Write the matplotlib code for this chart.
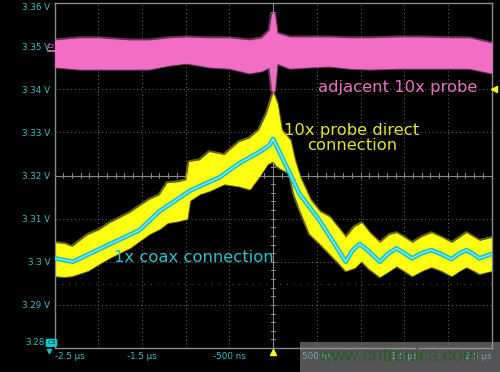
import numpy as np
import matplotlib
matplotlib.use("Agg")
import matplotlib.pyplot as plt
from matplotlib.patches import Rectangle

# time in microseconds, voltage in volts
t_coax = [-2.50, -2.29, -1.99, -1.53, -1.30, -0.94, -0.61, -0.39, -0.16, -0.04, 0.0,
          0.10, 0.21, 0.30, 0.53, 0.76, 0.83, 0.91, 0.99, 1.08, 1.22, 1.31, 1.41, 1.50,
          1.59, 1.70, 1.81, 1.92, 2.04, 2.12, 2.21, 2.29, 2.36, 2.43, 2.50]
v_coax = [3.3008, 3.3000, 3.3029, 3.3073, 3.3117, 3.3166, 3.3196, 3.3228, 3.3254, 3.3270, 3.3285,
          3.3243, 3.3197, 3.3158, 3.3096, 3.3023, 3.3000, 3.3027, 3.3041, 3.3027, 3.3000, 3.3018, 3.3031, 3.3020,
          3.3008, 3.3020, 3.3027, 3.3018, 3.3006, 3.3018, 3.3027, 3.3018, 3.3008, 3.3013, 3.3018]

t_direct = [-2.50, -2.39, -2.30, -2.12, -1.99, -1.87, -1.64, -1.42, -1.30, -1.21, -1.09, -0.99, -0.96,
            -0.84, -0.73, -0.56, -0.39, -0.27, -0.16, -0.07, 0.0, 0.04, 0.09, 0.19, 0.24, 0.30,
            0.42, 0.53, 0.64, 0.76, 0.83, 0.93, 1.01, 1.10, 1.22, 1.33, 1.41, 1.50, 1.59, 1.70,
            1.81, 1.93, 2.04, 2.13, 2.21, 2.30, 2.36, 2.50]
v_direct_hi = [3.3043, 3.3041, 3.3034, 3.3062, 3.3073, 3.3089, 3.3113, 3.3143, 3.3154, 3.3182, 3.3184, 3.3189, 3.3231,
               3.3235, 3.3254, 3.3247, 3.3277, 3.3286, 3.3305, 3.3344, 3.3388, 3.3367, 3.3305, 3.3281, 3.3235, 3.3196,
               3.3143, 3.3115, 3.3103, 3.3073, 3.3055, 3.3080, 3.3089, 3.3066, 3.3043, 3.3062, 3.3066, 3.3055, 3.3043, 3.3057,
               3.3066, 3.3055, 3.3043, 3.3055, 3.3066, 3.3055, 3.3048, 3.3055]
v_direct_lo = [3.2969, 3.2967, 3.2969, 3.2981, 3.2997, 3.3011, 3.3034, 3.3066, 3.3078, 3.3092, 3.3096, 3.3101, 3.3143,
               3.3159, 3.3166, 3.3182, 3.3177, 3.3170, 3.3200, 3.3228, 3.3235, 3.3224, 3.3217, 3.3207, 3.3159, 3.3126,
               3.3066, 3.3045, 3.3022, 3.2997, 3.2981, 3.2988, 3.3004, 3.2985, 3.2967, 3.2981, 3.2992, 3.2981, 3.2969, 3.2981,
               3.2990, 3.2981, 3.2969, 3.2981, 3.2990, 3.2981, 3.2974, 3.2981]

t_adj = [-2.50, -2.22, -1.99, -1.64, -1.42, -1.19, -0.99, -0.73, -0.50, -0.27, -0.13, -0.04, -0.01,
         0.01, 0.04, 0.19, 0.42, 0.64, 0.87, 1.10, 1.44, 1.67, 2.02, 2.24, 2.50]
v_adj_hi = [3.3513, 3.3518, 3.3518, 3.3513, 3.3513, 3.3518, 3.3520, 3.3518, 3.3518, 3.3513, 3.3518, 3.3536, 3.3575,
            3.3575, 3.3529, 3.3520, 3.3520, 3.3520, 3.3518, 3.3518, 3.3520, 3.3520, 3.3518, 3.3518, 3.3506]
v_adj_lo = [3.3453, 3.3448, 3.3448, 3.3448, 3.3448, 3.3457, 3.3462, 3.3453, 3.3450, 3.3439, 3.3444, 3.3453, 3.3397,
            3.3397, 3.3462, 3.3450, 3.3453, 3.3455, 3.3450, 3.3448, 3.3450, 3.3450, 3.3450, 3.3450, 3.3439]

y_ticks = [3.36, 3.35, 3.34, 3.33, 3.32, 3.31, 3.30, 3.29]
y_labels = ["3.36 V", "3.35 V", "3.34 V", "3.33 V", "3.32 V", "3.31 V", "3.3 V", "3.29 V"]
x_ticks = [-2.5, -1.5, -0.5, 0.5, 1.5, 2.5]
x_labels = ["-2.5 \u00b5s", "-1.5 \u00b5s", "-500 ns", "500 ns", "1.5 \u00b5s", "2.5 \u00b5s"]

PINK = "#f26ec6"
YELLOW = "#ffff10"
CYAN = "#1ec4c8"
LABEL = "#3cbcc4"

fig = plt.figure(figsize=(5, 3.72), dpi=100, facecolor="black")
ax = fig.add_axes([0.109, 0.0645, 0.8744, 0.9274], facecolor="black")
ax.set_xlim(-2.5, 2.5)
ax.set_ylim(3.28, 3.36)

# scope graticule
for x in np.arange(-2.0, 2.5, 0.5):
    ax.axvline(x, color="#707070", lw=0.7, ls=(0, (1, 3)), zorder=1)
for y in y_ticks[1:]:
    ax.axhline(y, color="#707070", lw=0.7, ls=(0, (1, 3)), zorder=1)
ax.axhline(3.2948, color="#5a5a5a", lw=0.7, ls=(0, (1, 6)), zorder=1)
ax.axhline(3.32, color="#8a8a8a", lw=0.8, zorder=1)
ax.axvline(0, color="#8a8a8a", lw=0.8, zorder=1)
for x in np.arange(-2.5, 2.51, 0.1):
    ax.plot([x, x], [3.3195, 3.3205], color="#8a8a8a", lw=0.7, zorder=1)
for y in np.arange(3.28, 3.3601, 0.002):
    ax.plot([-0.025, 0.025], [y, y], color="#8a8a8a", lw=0.7, zorder=1)

# traces (noise bands drawn as their envelopes, fuzzy rim for the spikes)
ax.fill_between(t_direct, v_direct_lo, v_direct_hi, facecolor="none",
                edgecolor="#a8a040", lw=3.0, alpha=0.6, zorder=2)
ax.fill_between(t_direct, v_direct_lo, v_direct_hi, facecolor=YELLOW,
                edgecolor=YELLOW, lw=0.8, zorder=2)
ax.plot(t_coax, v_coax, color=CYAN, lw=3.4, solid_joinstyle="round", zorder=3)
ax.plot(t_coax, v_coax, color="#8ceef0", lw=0.9, zorder=3)
ax.fill_between(t_adj, v_adj_lo, v_adj_hi, facecolor="none",
                edgecolor="#b0588e", lw=3.0, alpha=0.6, zorder=4)
ax.fill_between(t_adj, v_adj_lo, v_adj_hi, facecolor=PINK,
                edgecolor=PINK, lw=0.8, zorder=4)

ax.text(1.42, 3.3405, "adjacent 10x probe", color="#e872c0", fontsize=11.8,
        ha="center", va="center", zorder=5)
ax.text(0.90, 3.3287, "10x probe direct\nconnection", color="#e2e23c", fontsize=11.8,
        ha="center", va="center", linespacing=1.05, zorder=5)
ax.text(-0.906, 3.3011, "1x coax connection", color="#2cc0c8", fontsize=11.8,
        ha="center", va="center", zorder=5)

# axes styling
for s in ax.spines.values():
    s.set_color("#8a8a8a")
    s.set_linewidth(1.0)
ax.set_yticks(y_ticks)
ax.set_yticklabels(y_labels)
ax.set_xticks(x_ticks)
ax.set_xticklabels(x_labels)
ax.tick_params(length=0, labelsize=6.3, labelcolor=LABEL, pad=3)
ax.get_yticklabels()[0].set_va("top")
xl = ax.get_xticklabels()
xl[0].set_ha("left")
xl[-1].set_ha("right")
ax.text(-0.0235, 3.2803, "3.28", transform=ax.get_yaxis_transform(), color=LABEL,
        fontsize=6.3, ha="right", va="bottom")

# channel / trigger markers
ax.plot([0], [3.2791], marker="^", ms=5, color=YELLOW, clip_on=False, zorder=6)
ax.plot([2.53], [3.34], marker="<", ms=4, color=YELLOW, clip_on=False, zorder=6)
ax.plot([-2.58, -2.5], [3.3488, 3.3488], color=PINK, lw=1.2, clip_on=False)
ax.text(-2.54, 3.3500, "C2", color=PINK, fontsize=4.5, ha="center", va="center")
ax.text(-2.535, 3.2812, "C3", color="#083030", fontsize=4.5, ha="center", va="center",
        bbox=dict(boxstyle="round,pad=0.15", fc=CYAN, ec=CYAN))
ax.plot([-2.56], [3.2792], marker="v", ms=3, color=CYAN, clip_on=False)

# watermark
fig.patches.append(Rectangle((0.6, 0.0), 0.4, 0.081, transform=fig.transFigure,
                             facecolor="#9a9a9a", alpha=0.55, zorder=10))
fig.text(0.796, 0.042, "www.cntronics.com", color="#245e24", fontsize=13.5,
         family="Liberation Sans", ha="center", va="center", zorder=11)

fig.savefig("out.png", dpi=100, facecolor="black")
